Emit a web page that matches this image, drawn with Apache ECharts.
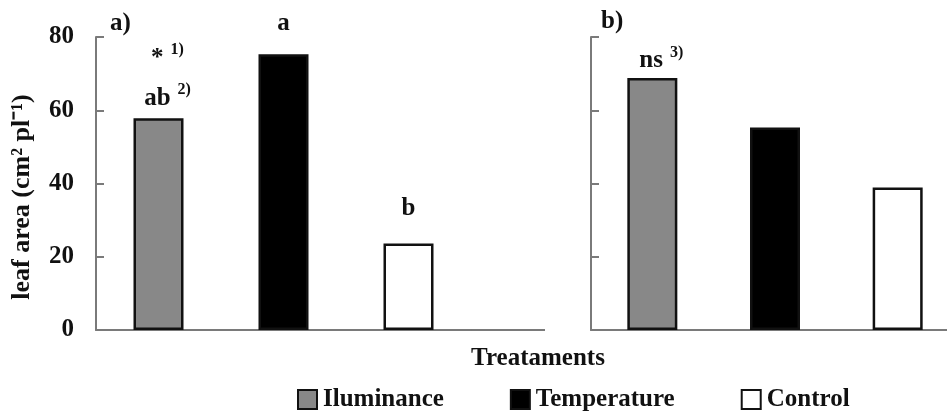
<!DOCTYPE html>
<html>
<head>
<meta charset="utf-8">
<script src="https://cdn.jsdelivr.net/npm/echarts@6/dist/echarts.min.js"></script>
<style>html,body{margin:0;padding:0;background:#fff;overflow:hidden;width:947px;height:411px}#c{width:965px;height:411px}</style>
</head>
<body>
<div id="c"></div>
<script>
// ---- data ----
const treatments = ['Iluminance', 'Temperature', 'Control'];
const valuesA = [57.8, 75.3, 23.6];
const valuesB = [68.8, 55.3, 38.9];
const lettersA = ['ab', 'a', 'b'];
const supA = ['2)', '', ''];
const lettersB = ['ns', '', ''];
const supB = ['3)', '', ''];
const starA = ['*', '', ''];
const starSupA = ['1)', '', ''];
const yTicks = [0, 20, 40, 60, 80];
const panelTitles = ['a)', 'b)'];
const xTitle = 'Treataments';
const yTitle = 'leaf area (cm² pl⁻¹)';

// ---- styles ----
const FONT = 'Liberation Serif';
const fills = ['#888888', '#000000', '#ffffff'];
const gapsA = [0, 11, 15];
const gapsB = [-3, 0, 0];

const chart = echarts.init(document.getElementById('c'));

const rich = {
  m: {fontFamily: FONT, fontWeight: 'bold', fontSize: 25, color: '#111', lineHeight: 40},
  s: {fontFamily: FONT, fontWeight: 'bold', fontSize: 16, color: '#111', padding: [0, 0, 16, 7], lineHeight: 40},
  st: {fontFamily: FONT, fontWeight: 'bold', fontSize: 25, color: '#111', lineHeight: 40}
};

function mkSeries(panel, vals, letters, sups, gaps) {
  return treatments.map((name, i) => ({
    name: name,
    type: 'bar',
    xAxisIndex: panel,
    yAxisIndex: panel,
    stack: 'p' + panel,
    barWidth: 50,
    itemStyle: {color: fills[i], borderColor: '#111', borderWidth: 2.5},
    label: {
      show: letters[i] !== '',
      position: 'top',
      distance: gaps[i],
      offset: [sups[i] ? 9 : 0, 0],
      formatter: () => {
        let t = '{m|' + letters[i] + '}' + (sups[i] ? '{s|' + sups[i] + '}' : '');
        if (panel === 0 && starA[i]) t = '{st|' + starA[i] + '}{s|' + starSupA[i] + '}\n' + t;
        return t;
      },
      rich: rich
    },
    data: vals.map((v, j) => j === i ? v : '-')
  }));
}

const axisLine = {show: true, lineStyle: {color: '#7a7a7a', width: 2}};

chart.setOption({
  animation: false,
  grid: [
    {left: 96, top: 37, width: 375, height: 293},
    {left: 591, top: 37, width: 368, height: 293}
  ],
  xAxis: [0, 1].map(g => ({
    type: 'category', gridIndex: g, data: treatments,
    axisLine: axisLine, axisTick: {show: false}, axisLabel: {show: false}
  })),
  yAxis: [0, 1].map(g => ({
    type: 'value', gridIndex: g, min: yTicks[0], max: yTicks[yTicks.length - 1], interval: 20,
    axisLine: axisLine,
    axisTick: {show: true, inside: true, length: 8, lineStyle: {color: '#7a7a7a', width: 2}},
    splitLine: {show: false},
    axisLabel: {show: g === 0, fontFamily: FONT, fontWeight: 'bold', fontSize: 25, color: '#111', margin: 22}
  })),
  title: {
    text: xTitle, left: 533, top: 341, textAlign: 'center',
    textStyle: {fontFamily: FONT, fontWeight: 'bold', fontSize: 25, color: '#111'}
  },
  legend: {
    data: treatments, left: 292, top: 382, itemWidth: 19, itemHeight: 19, itemGap: 66,
    icon: 'rect',
    textStyle: {fontFamily: FONT, fontWeight: 'bold', fontSize: 25, color: '#111', padding: [0, 0, 0, 1]}
  },
  graphic: [
    {type: 'line', shape: {x1: 471, y1: 330, x2: 545, y2: 330}, style: {stroke: '#7a7a7a', lineWidth: 2}},
    {type: 'text', x: 110, y: 24, style: {text: panelTitles[0], font: 'bold 25px ' + FONT, fill: '#111', textVerticalAlign: 'middle'}},
    {type: 'text', x: 601, y: 22, style: {text: panelTitles[1], font: 'bold 25px ' + FONT, fill: '#111', textVerticalAlign: 'middle'}},
    {type: 'text', x: 22, y: 197, rotation: Math.PI / 2,
     style: {text: yTitle, font: 'bold 26px ' + FONT, fill: '#111', textAlign: 'center', textVerticalAlign: 'middle'}}
  ],
  series: [].concat(
    mkSeries(0, valuesA, lettersA, supA, gapsA),
    mkSeries(1, valuesB, lettersB, supB, gapsB)
  )
});
</script>
</body>
</html>
